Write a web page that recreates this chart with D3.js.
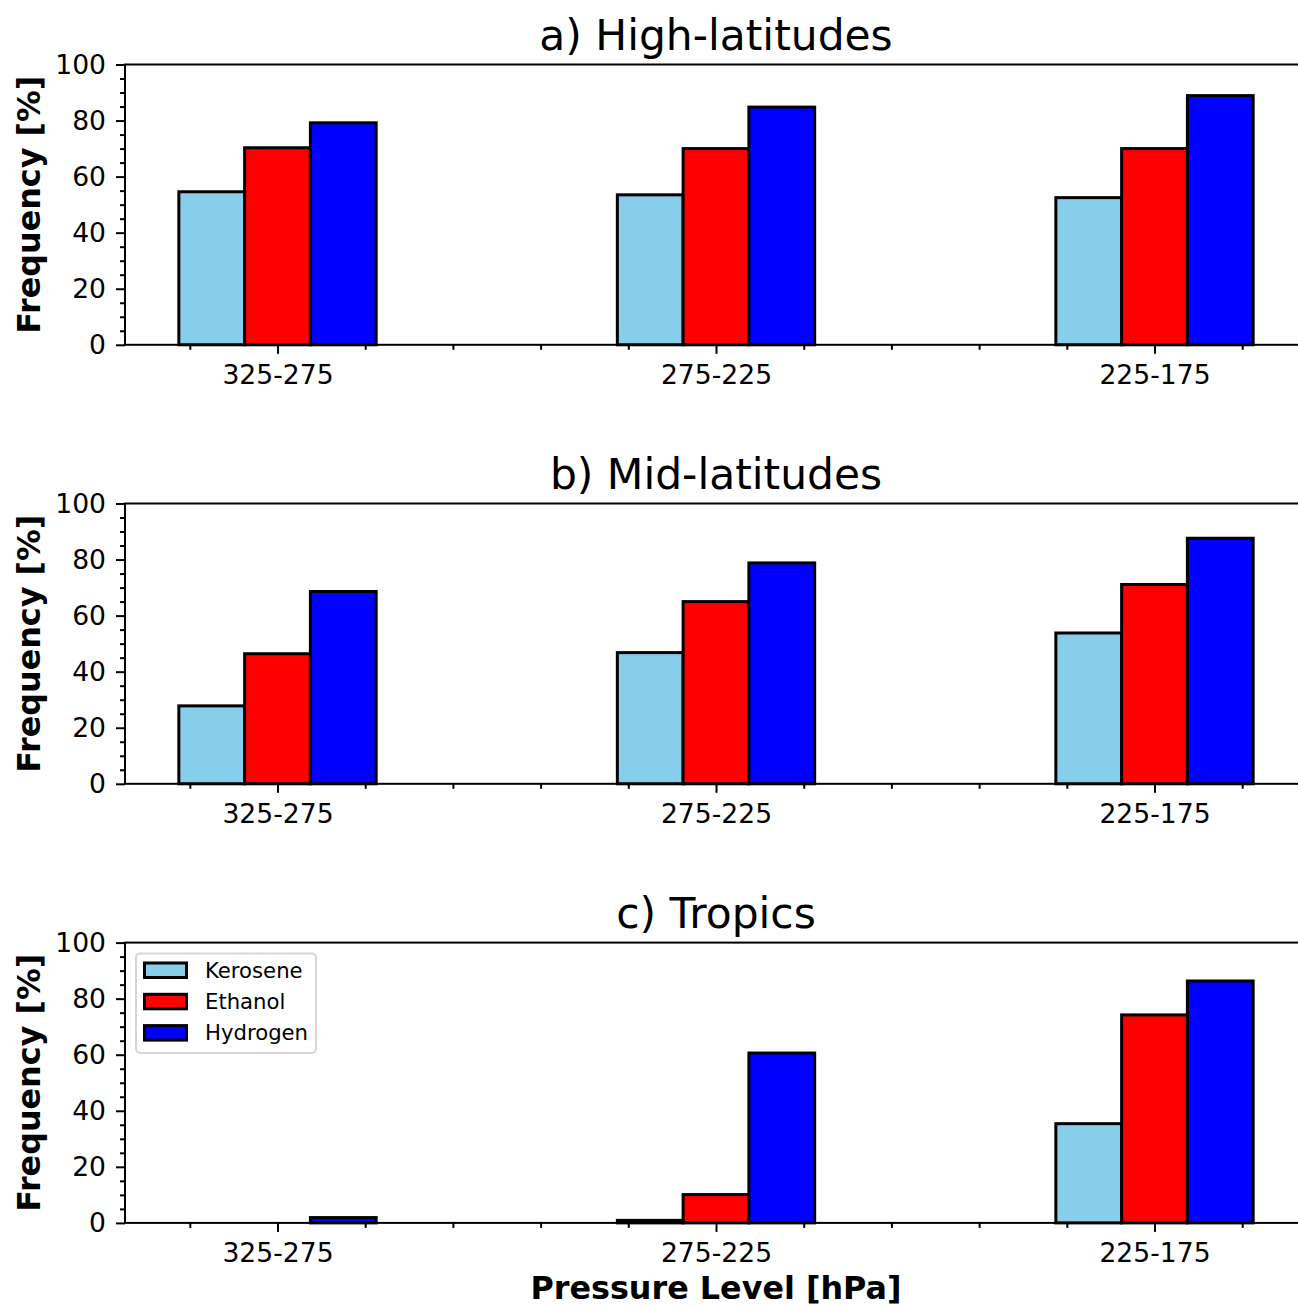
<!DOCTYPE html>
<html>
<head>
<meta charset="utf-8">
<script src="https://cdn.jsdelivr.net/npm/d3@7"></script>
<style>
  html, body { margin: 0; padding: 0; background: #fff; }
  svg { display: block; }
  text { font-family: "DejaVu Sans", sans-serif; fill: #000; }
</style>
</head>
<body>
<svg id="chart" width="1298" height="1306"></svg>
<script>
// Pressure-level bins on the x axis
const categories = ["325-275", "275-225", "225-175"];
const fuels = ["Kerosene", "Ethanol", "Hydrogen"];
const fuelColors = ["#87ceeb", "#ff0000", "#0000ff"];

// Frequency [%] per fuel, one array per region
const highKerosene = [54.6, 53.5, 52.5];
const highEthanol  = [70.3, 70.0, 70.0];
const highHydrogen = [79.2, 84.8, 88.9];

const midKerosene = [27.8, 46.8, 53.8];
const midEthanol  = [46.4, 65.0, 71.1];
const midHydrogen = [68.6, 78.8, 87.6];

const tropKerosene = [0.0, 0.9, 35.4];
const tropEthanol  = [0.0, 10.1, 74.2];
const tropHydrogen = [1.9, 60.6, 86.3];

const panelTitles = ["a) High-latitudes", "b) Mid-latitudes", "c) Tropics"];
const yTicks = [0, 20, 40, 60, 80, 100];

const panels = [
  { title: panelTitles[0], series: [highKerosene, highEthanol, highHydrogen] },
  { title: panelTitles[1], series: [midKerosene, midEthanol, midHydrogen] },
  { title: panelTitles[2], series: [tropKerosene, tropEthanol, tropHydrogen] }
];

const svg = d3.select("#chart");

const left = 125;
const unit = 438.5;        // px per category step
const barW = 0.15;         // bar width in category units
const xMin = -0.3478, xMax = 2.3478;
const axH = 280.3;
const tops = [64.5, 503.5, 942.6];

const x = d3.scaleLinear().domain([xMin, xMax]).range([left, left + (xMax - xMin) * unit]);

const tickFont = 26.6;
const majorLen = 9, minorLen = 5, tickPad = 10;

panels.forEach((p, pi) => {
  const top = tops[pi];
  const bottom = top + axH;
  const y = d3.scaleLinear().domain([0, 100]).range([bottom, top]);
  const g = svg.append("g");

  // bars
  p.series.forEach((vals, si) => {
    g.selectAll(null)
      .data(vals)
      .enter()
      .append("rect")
      .attr("x", (d, i) => x(i + (si - 1) * barW - barW / 2))
      .attr("width", x(barW) - x(0))
      .attr("y", d => y(d))
      .attr("height", d => y(0) - y(d))
      .attr("fill", fuelColors[si])
      .attr("stroke", "#000")
      .attr("stroke-width", 3);
  });

  // y axis
  const yAxis = d3.axisLeft(y).tickValues(yTicks).tickSize(majorLen).tickPadding(tickPad);
  const ya = g.append("g").attr("transform", `translate(${left},0)`).call(yAxis);
  const yMinor = d3.axisLeft(y).tickValues(d3.range(0, 101, 5).filter(v => v % 20 !== 0)).tickSize(minorLen).tickFormat("");
  const ym = g.append("g").attr("transform", `translate(${left},0)`).call(yMinor);

  // x axis
  const xAxis = d3.axisBottom(x).tickValues([0, 1, 2]).tickFormat(i => categories[i]).tickSize(majorLen).tickPadding(tickPad + 1);
  const xa = g.append("g").attr("transform", `translate(0,${bottom})`).call(xAxis);
  const minorX = d3.range(-0.2, 2.31, 0.2).map(v => Math.round(v * 10) / 10).filter(v => Math.abs(v - Math.round(v)) > 0.01);
  const xMinor = d3.axisBottom(x).tickValues(minorX).tickSize(minorLen).tickFormat("");
  const xm = g.append("g").attr("transform", `translate(0,${bottom})`).call(xMinor);

  [ya, ym, xa, xm].forEach(a => {
    a.select(".domain").remove();
    a.selectAll("line").attr("stroke", "#000").attr("stroke-width", 2);
    a.selectAll("text").style("font-size", tickFont + "px").style("font-family", "DejaVu Sans");
  });

  // frame
  g.append("rect")
    .attr("x", left).attr("y", top)
    .attr("width", x(xMax) - left).attr("height", axH)
    .attr("fill", "none").attr("stroke", "#000").attr("stroke-width", 2);

  // title
  g.append("text")
    .attr("x", x(1))
    .attr("y", top - 15)
    .attr("text-anchor", "middle")
    .style("font-size", "42.4px")
    .text(p.title);

  // y label
  g.append("text")
    .attr("transform", `translate(40,${(top + bottom) / 2}) rotate(-90)`)
    .attr("text-anchor", "middle")
    .style("font-size", "31.8px")
    .style("font-weight", "bold")
    .text("Frequency [%]");

  // legend in tropics panel
  if (pi === 2) {
    const lg = g.append("g");
    lg.append("rect")
      .attr("x", 136).attr("y", 953.5)
      .attr("width", 180).attr("height", 99.5)
      .attr("rx", 4).attr("ry", 4)
      .attr("fill", "#fff").attr("fill-opacity", 0.8)
      .attr("stroke", "#d6d6d6").attr("stroke-width", 2);
    fuels.forEach((f, fi) => {
      const ry = 963 + fi * 31.3;
      lg.append("rect")
        .attr("x", 144.5).attr("y", ry)
        .attr("width", 42).attr("height", 14.5)
        .attr("fill", fuelColors[fi]).attr("stroke", "#000").attr("stroke-width", 3);
      lg.append("text")
        .attr("x", 205).attr("y", ry + 14.5)
        .style("font-size", "21.2px")
        .text(f);
    });
  }
});

// shared x label
svg.append("text")
  .attr("x", 716)
  .attr("y", 1299)
  .attr("text-anchor", "middle")
  .style("font-size", "31.8px")
  .style("font-weight", "bold")
  .text("Pressure Level [hPa]");
</script>
</body>
</html>
